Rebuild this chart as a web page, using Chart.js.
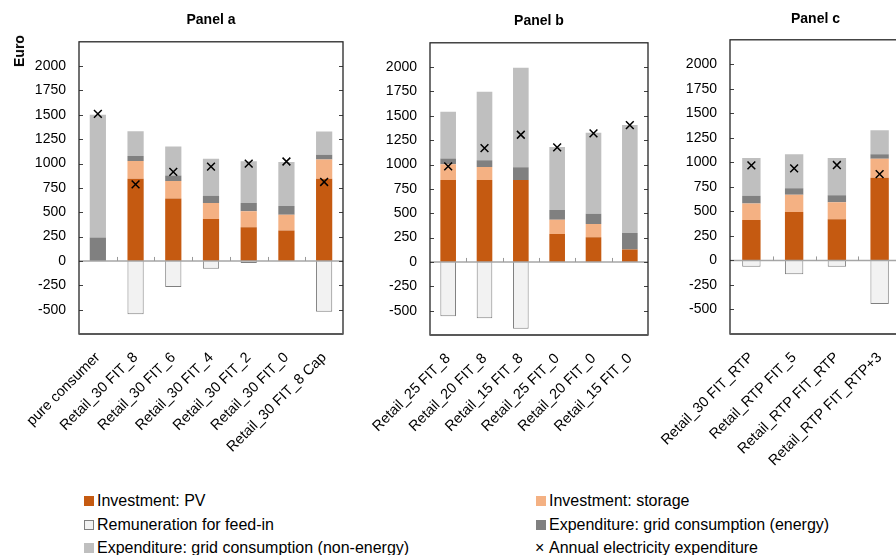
<!DOCTYPE html>
<html>
<head>
<meta charset="utf-8">
<script src="https://cdn.jsdelivr.net/npm/chart.js@4.4.0/dist/chart.umd.min.js"></script>
<style>
  html, body { margin: 0; padding: 0; background: #fff; }
  #wrap { position: relative; width: 896px; height: 555px; overflow: hidden; font-family: 'Liberation Sans', Arial, sans-serif; }
  .panel { position: absolute; top: 0; }
  #euro { position: absolute; left: 19px; top: 51px; transform: translate(-50%, -50%) rotate(-90deg); font-weight: bold; font-size: 14px; }
  .lg { position: absolute; font-size: 16px; line-height: 18px; color: #000; white-space: nowrap; }
  .sw { position: absolute; width: 10px; height: 10px; box-sizing: border-box; }
</style>
</head>
<body>
<div id="wrap">
  <div class="panel" style="left:0px"><canvas id="panelA" width="350" height="470"></canvas></div>
  <div class="panel" style="left:340px"><canvas id="panelB" width="315" height="470"></canvas></div>
  <div class="panel" style="left:640px"><canvas id="panelC" width="280" height="470"></canvas></div>
  <div id="euro">Euro</div>
  <div id="legend"></div>
</div>
<script>
// Panel a
const labelsA = ['pure consumer', 'Retail_30 FIT_8', 'Retail_30 FIT_6', 'Retail_30 FIT_4', 'Retail_30 FIT_2', 'Retail_30 FIT_0', 'Retail_30 FIT_8 Cap'];
const pvA = [0, 845, 640, 430, 347, 313, 845];
const storageA = [0, 180, 182, 165, 162, 161, 196];
const energyA = [240, 52, 55, 75, 86, 90, 49];
const nonEnergyA = [1260, 254, 299, 378, 429, 453, 240];
const feedInA = [null, -546, -268, -80, -22, null, -522];
const expenditureA = [1510, 787, 914, 969, 1000, 1021, 811];

// Panel b
const labelsB = ['Retail_25 FIT_8', 'Retail_20 FIT_8', 'Retail_15 FIT_8', 'Retail_25 FIT_0', 'Retail_20 FIT_0', 'Retail_15 FIT_0'];
const pvB = [841, 841, 841, 287, 253, 127];
const storageB = [161, 133, 0, 147, 137, 0];
const energyB = [61, 69, 130, 99, 106, 170];
const nonEnergyB = [479, 704, 1022, 647, 831, 1108];
const feedInB = [-557, -578, -687, null, null, null];
const expenditureB = [981, 1169, 1306, 1176, 1320, 1405];

// Panel c
const labelsC = ['Retail_30 FIT_RTP', 'Retail_RTP FIT_5', 'Retail_RTP FIT_RTP', 'Retail_RTP FIT_RTP+3'];
const pvC = [413, 495, 420, 843];
const storageC = [167, 174, 174, 195];
const energyC = [79, 68, 72, 44];
const nonEnergyC = [385, 345, 378, 246];
const feedInC = [-65, -140, -65, -444];
const expenditureC = [969, 939, 973, 881];

const yTicks = { min: -750, max: 2250, step: 250, shownMin: -500, shownMax: 2000 };

const colors = {
  pv: '#c55a11',
  storage: '#f4b183',
  feedIn: '#f2f2f2',
  feedInBorder: '#7f7f7f',
  energy: '#808080',
  nonEnergy: '#bfbfbf',
  cross: '#000000'
};

Chart.defaults.font.family = "'Liberation Sans', Arial, sans-serif";
Chart.defaults.color = '#000';

// box, zero line and inward ticks like the original
const framePlugin = {
  id: 'frame',
  afterDatasetsDraw(chart) {
    const { ctx, chartArea: a } = chart;
    const x = chart.scales.x, y = chart.scales.y;
    const y0 = y.getPixelForValue(0);
    ctx.save();
    ctx.strokeStyle = '#a6a6a6';
    ctx.lineWidth = 1.5;
    ctx.beginPath();
    ctx.moveTo(a.left, y0);
    ctx.lineTo(a.right, y0);
    ctx.stroke();

    ctx.lineWidth = 1;
    ctx.strokeStyle = '#999';
    const n = chart.data.labels.length;
    for (let i = 1; i < n; i++) {
      const xp = Math.round((x.getPixelForValue(i - 1) + x.getPixelForValue(i)) / 2) + 0.5;
      ctx.beginPath();
      ctx.moveTo(xp, y0);
      ctx.lineTo(xp, y0 - 4);
      ctx.stroke();
    }

    ctx.strokeStyle = '#404040';
    y.ticks.forEach(t => {
      if (t.value < yTicks.shownMin || t.value > yTicks.shownMax) return;
      const yp = Math.round(y.getPixelForValue(t.value)) + 0.5;
      ctx.beginPath();
      ctx.moveTo(a.left, yp); ctx.lineTo(a.left + 4, yp);
      ctx.moveTo(a.right, yp); ctx.lineTo(a.right - 4, yp);
      ctx.stroke();
    });

    ctx.strokeStyle = '#262626';
    ctx.lineWidth = 1.3;
    ctx.strokeRect(a.left, a.top, a.right - a.left, a.bottom - a.top);
    ctx.strokeStyle = '#595959';
    ctx.lineWidth = 2;
    ctx.beginPath();
    ctx.moveTo(a.left, a.bottom);
    ctx.lineTo(a.right, a.bottom);
    ctx.stroke();
    ctx.restore();
  }
};

const seriesDefs = [
  { key: 'pv', label: 'Investment: PV', color: colors.pv },
  { key: 'storage', label: 'Investment: storage', color: colors.storage },
  { key: 'feedIn', label: 'Remuneration for feed-in', color: colors.feedIn, border: colors.feedInBorder },
  { key: 'energy', label: 'Expenditure: grid consumption (energy)', color: colors.energy },
  { key: 'nonEnergy', label: 'Expenditure: grid consumption (non-energy)', color: colors.nonEnergy },
  { key: 'expenditure', label: 'Annual electricity expenditure', color: colors.cross, cross: true }
];

function makePanel(id, title, labels, data, geom) {
  const bar = (def, values) => ({
    label: def.label,
    data: values,
    backgroundColor: def.color,
    borderColor: def.border || def.color,
    borderWidth: def.border ? 1 : 0,
    barPercentage: 0.43,
    categoryPercentage: 1
  });
  const byKey = k => seriesDefs.find(d => d.key === k);
  const datasets = [
    bar(byKey('pv'), data.pv),
    bar(byKey('storage'), data.storage),
    bar(byKey('energy'), data.energy),
    bar(byKey('nonEnergy'), data.nonEnergy),
    bar(byKey('feedIn'), data.feedIn),
    {
      type: 'line',
      label: byKey('expenditure').label,
      data: data.expenditure,
      showLine: false,
      stack: 'exp',
      order: -1,
      pointStyle: 'crossRot',
      pointRadius: 5.5,
      pointBorderColor: colors.cross,
      pointBorderWidth: 1.5,
      pointBackgroundColor: colors.cross
    }
  ];

  return new Chart(document.getElementById(id), {
    type: 'bar',
    data: { labels: labels, datasets: datasets },
    options: {
      responsive: false,
      animation: false,
      layout: { padding: { left: 0, right: geom.padRight, top: 0, bottom: 0 } },
      plugins: {
        legend: { display: false },
        tooltip: { enabled: false },
        title: {
          display: true,
          text: title,
          fullSize: false,
          font: { size: 14, weight: 'bold' },
          color: '#000',
          padding: { top: geom.titleTop, bottom: geom.titleBottom }
        }
      },
      scales: {
        x: {
          stacked: true,
          grid: { display: false },
          border: { display: false },
          ticks: { autoSkip: false, maxRotation: 45, minRotation: 45, padding: 7, font: { size: 14.5 }, color: '#000' },
          afterFit: s => { s.height = geom.xHeight; }
        },
        y: {
          stacked: true,
          min: yTicks.min,
          max: yTicks.max,
          grid: { display: false, drawTicks: false },
          border: { display: false },
          ticks: {
            stepSize: yTicks.step,
            padding: 13,
            font: { size: 14 },
            color: '#000',
            callback: v => (v < yTicks.shownMin || v > yTicks.shownMax) ? '' : v
          },
          afterFit: s => { s.width = geom.yWidth; }
        }
      }
    },
    plugins: [framePlugin]
  });
}

makePanel('panelA', 'Panel a', labelsA,
  { pv: pvA, storage: storageA, energy: energyA, nonEnergy: nonEnergyA, feedIn: feedInA, expenditure: expenditureA },
  { yWidth: 79, padRight: 7, titleTop: 12, titleBottom: 13, xHeight: 136 });
makePanel('panelB', 'Panel b', labelsB,
  { pv: pvB, storage: storageB, energy: energyB, nonEnergy: nonEnergyB, feedIn: feedInB, expenditure: expenditureB },
  { yWidth: 90, padRight: 6, titleTop: 13, titleBottom: 13, xHeight: 135 });
makePanel('panelC', 'Panel c', labelsC,
  { pv: pvC, storage: storageC, energy: energyC, nonEnergy: nonEnergyC, feedIn: feedInC, expenditure: expenditureC },
  { yWidth: 90, padRight: 19, titleTop: 11, titleBottom: 12, xHeight: 136 });

// shared legend, two columns, built from the series definitions
const legendPos = { cols: [84, 536], rows: [501, 525, 548] };
const legendEl = document.getElementById('legend');
seriesDefs.forEach((d, i) => {
  const cx = legendPos.cols[i % 2];
  const cy = legendPos.rows[Math.floor(i / 2)];
  if (d.cross) {
    const m = document.createElement('div');
    m.className = 'lg';
    m.style.left = (cx - 1) + 'px';
    m.style.top = (cy - 9) + 'px';
    m.textContent = '\u00d7';
    legendEl.appendChild(m);
  } else {
    const sw = document.createElement('div');
    sw.className = 'sw';
    sw.style.left = cx + 'px';
    sw.style.top = (cy - 5) + 'px';
    sw.style.background = d.color;
    if (d.border) sw.style.border = '1px solid ' + d.border;
    legendEl.appendChild(sw);
  }
  const t = document.createElement('div');
  t.className = 'lg';
  t.style.left = (cx + 13) + 'px';
  t.style.top = (cy - 9) + 'px';
  t.textContent = d.label;
  legendEl.appendChild(t);
});
</script>
</body>
</html>
